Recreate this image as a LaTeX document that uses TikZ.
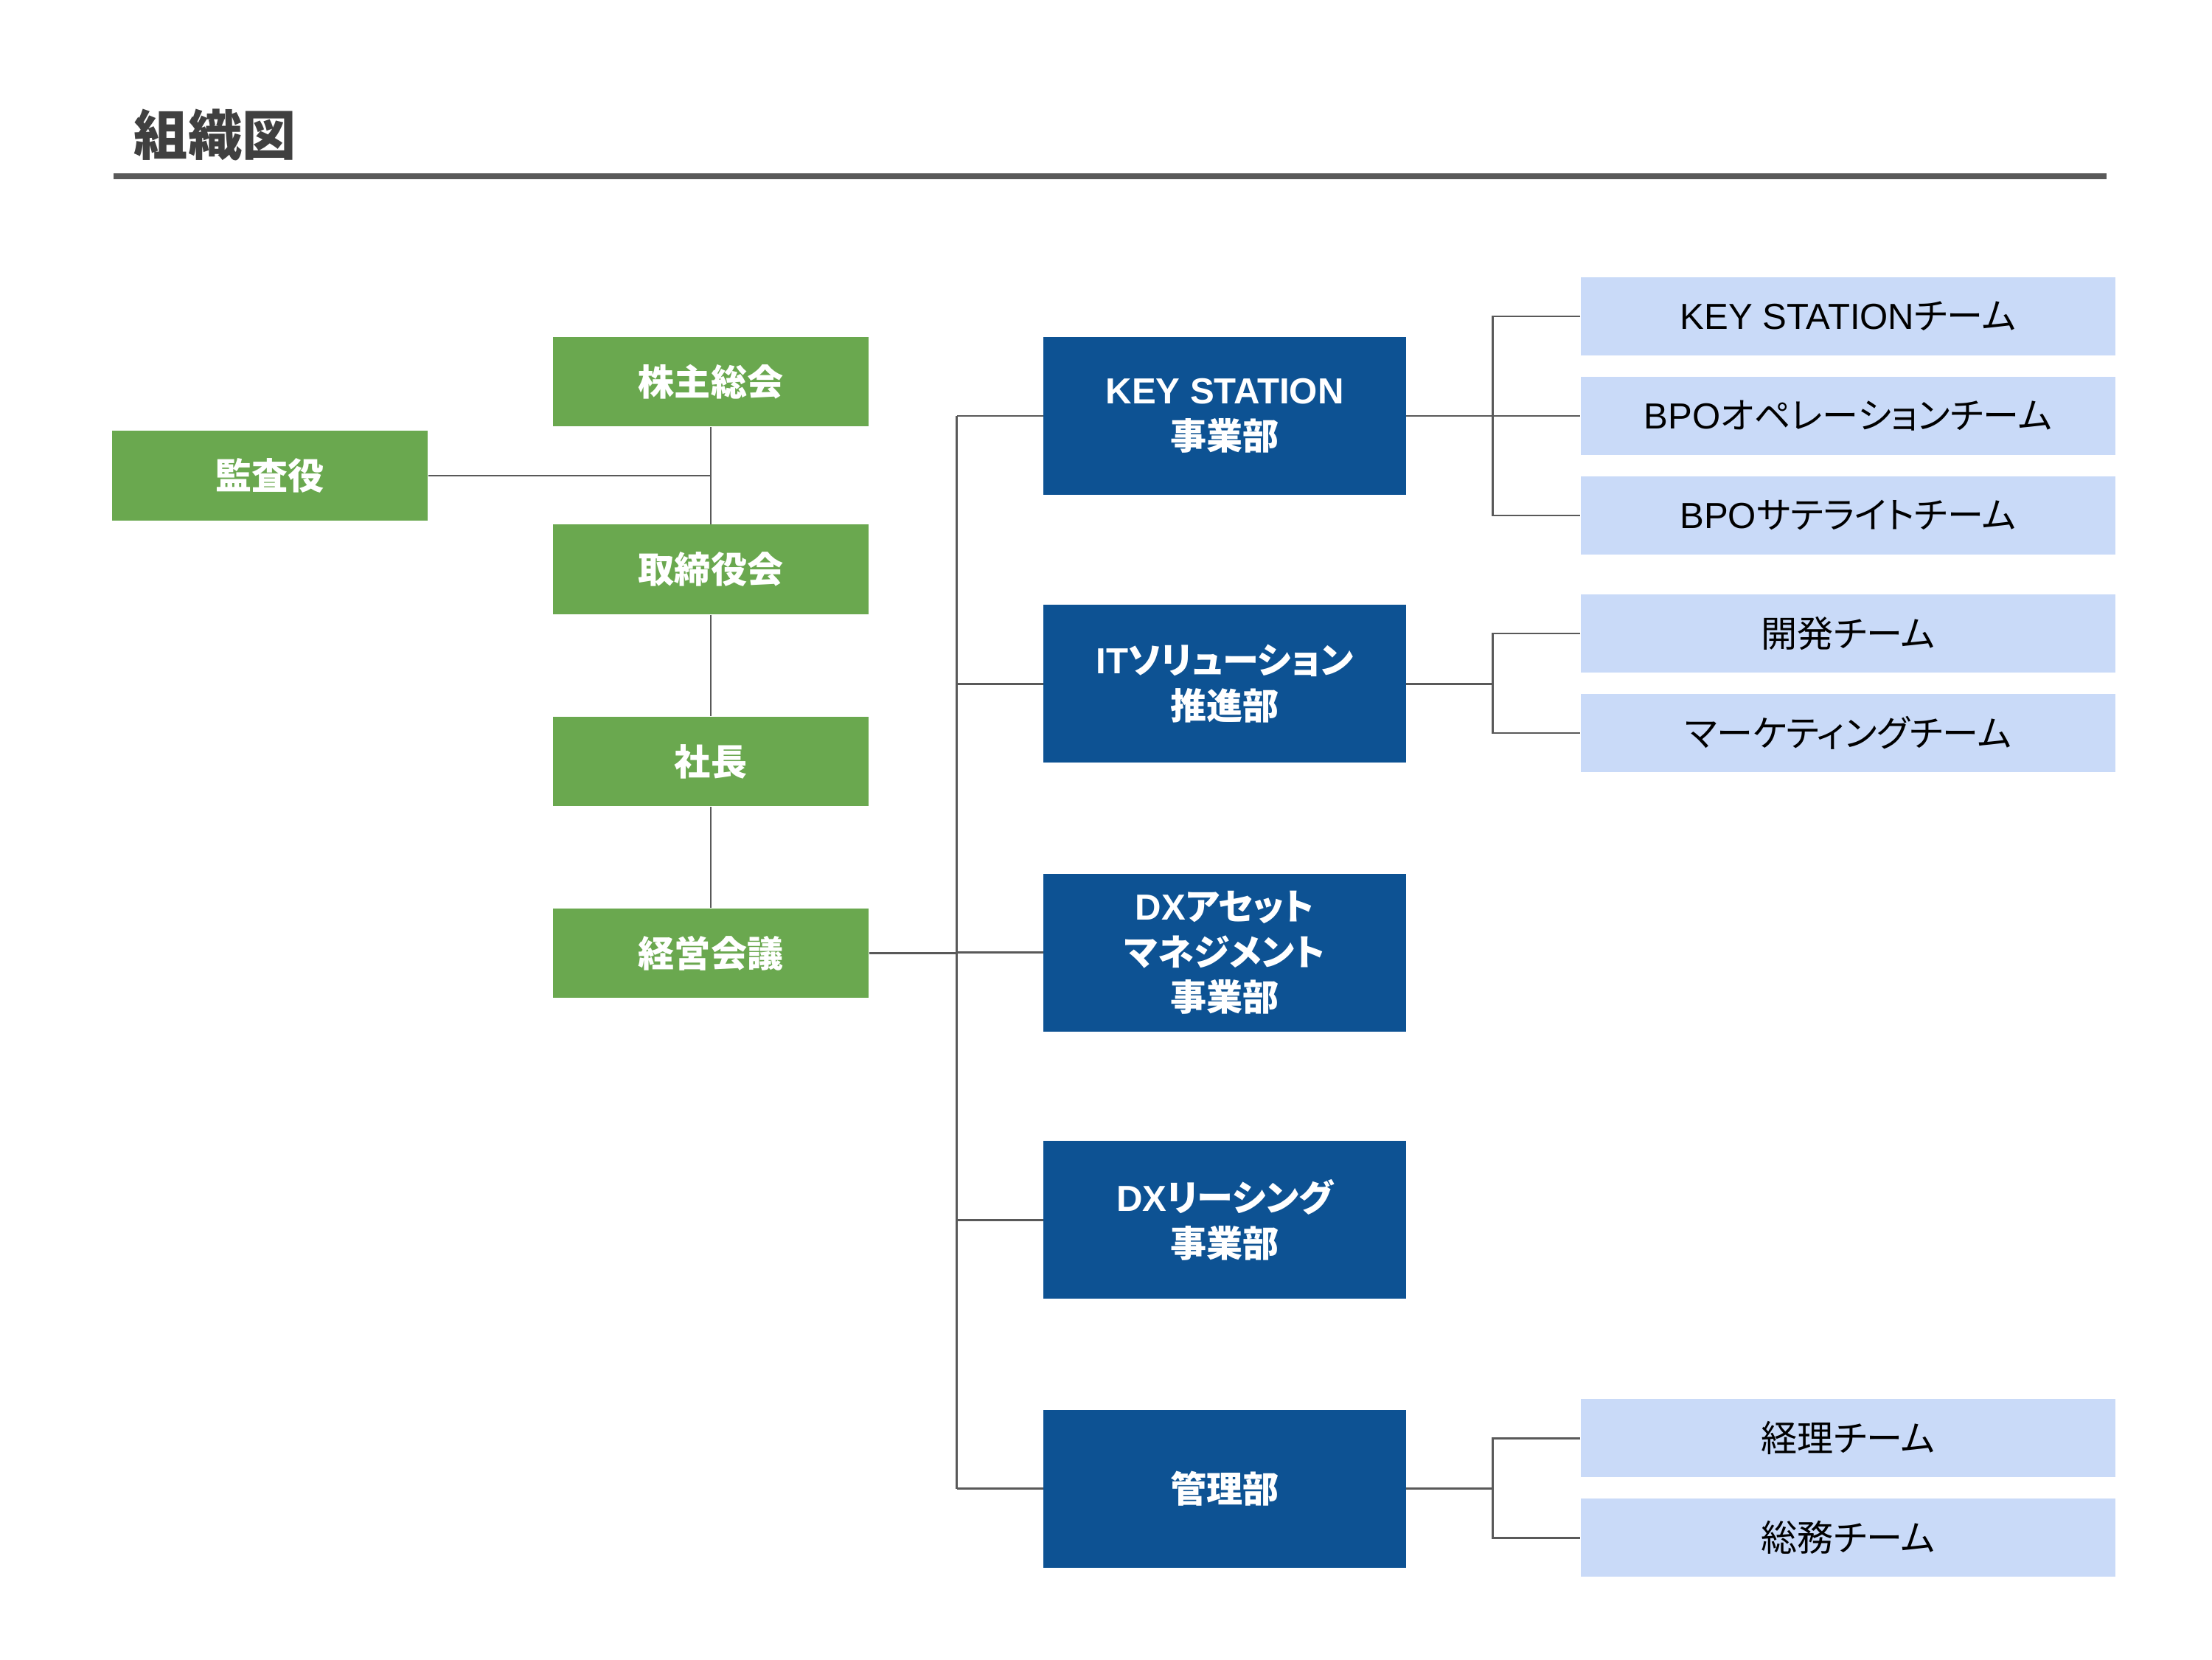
\documentclass[tikz,border=0pt]{standalone}
\usepackage{fontspec}
\newfontfamily\jp{Noto Sans CJK JP}[RawFeature=+palt]
\newfontfamily\jpt{Noto Sans CJK JP}
\newfontfamily\lat{Liberation Sans}
\definecolor{cgreen}{RGB}{106,168,79}
\definecolor{cblue}{RGB}{13,82,147}
\definecolor{clight}{RGB}{201,218,248}
\definecolor{cline}{RGB}{89,89,89}
\definecolor{ctitle}{RGB}{64,64,64}
\begin{document}
\begin{tikzpicture}[x=0.02cm,y=-0.02cm,
  gbox/.style={fill=cgreen,text=white,minimum width=4.44cm,minimum height=1.26cm,inner sep=0pt,align=center,font=\jpt\bfseries\fontsize{14.5}{18.2}\selectfont},
  bbox/.style={fill=cblue,text=white,minimum width=5.1cm,minimum height=2.22cm,inner sep=0pt,align=center,font=\jp\bfseries\fontsize{14.5}{18.2}\selectfont},
  lbox/.style={fill=clight,text=black,minimum width=7.52cm,minimum height=1.1cm,inner sep=0pt,align=center,font=\jp\fontsize{14.5}{18.2}\selectfont},
  conn/.style={draw=cline,line width=0.8pt}]
\useasboundingbox (0,0) rectangle (1556,1167);
% title
\node[anchor=west,text=ctitle,inner sep=0pt,font=\jpt\bfseries\fontsize{21.6}{26}\selectfont] (title) at (94,95) {組織図};
\coordinate (rl) at (80,124);
\coordinate (rr) at (1482,124);
\draw[draw=cline,line width=2.5pt] (rl) -- (rr);
% green column
\node[gbox] (kansa) at (190,334.5) {監査役};
\node[gbox] (kabu) at (500,268.5) {株主総会};
\node[gbox] (tori) at (500,400.5) {取締役会};
\node[gbox] (shacho) at (500,535.5) {社長};
\node[gbox] (keiei) at (500,670.5) {経営会議};
% blue column
\node[bbox] (ks) at (861.5,292.5) {{\lat KEY STATION}\\事業部};
\node[bbox] (it) at (861.5,481) {{\lat IT}ソリューション\\推進部};
\node[bbox] (dxa) at (861.5,670) {{\lat DX}アセット\\マネジメント\\事業部};
\node[bbox] (dxl) at (861.5,858) {{\lat DX}リーシング\\事業部};
\node[bbox] (kanri) at (861.5,1047) {管理部};
% teams
\node[lbox] (t1) at (1300,222.5) {{\lat KEY STATION}チーム};
\node[lbox] (t2) at (1300,292.5) {{\lat BPO}オペレーションチーム};
\node[lbox] (t3) at (1300,362.5) {{\lat BPO}サテライトチーム};
\node[lbox] (t4) at (1300,445.5) {開発チーム};
\node[lbox] (t5) at (1300,515.5) {マーケティングチーム};
\node[lbox] (t6) at (1300,1011.5) {経理チーム};
\node[lbox] (t7) at (1300,1081.5) {総務チーム};
% green connectors
\draw[conn] (kabu.south) -- (tori.north);
\draw[conn] (tori.south) -- (shacho.north);
\draw[conn] (shacho.south) -- (keiei.north);
\draw[conn] (kansa.east) -- (kansa.east -| kabu.south);
% trunk
\coordinate (tt) at (673,0);
\draw[conn] (tt |- ks.west) -- (tt |- kanri.west);
\draw[conn] (keiei.east) -- (keiei.east -| tt);
\foreach \b in {ks,it,dxa,dxl,kanri}{
  \draw[conn] (\b.west -| tt) -- (\b.west);
}
% team brackets
\coordinate (bt) at (1050,0);
\draw[conn] (ks.east) -- (t2.west);
\draw[conn] (t1.west) -- (t1.west -| bt) -- (t3.west -| bt) -- (t3.west);
\draw[conn] (it.east) -- (it.east -| bt);
\draw[conn] (t4.west) -- (t4.west -| bt) -- (t5.west -| bt) -- (t5.west);
\draw[conn] (kanri.east) -- (kanri.east -| bt);
\draw[conn] (t6.west) -- (t6.west -| bt) -- (t7.west -| bt) -- (t7.west);
\end{tikzpicture}
\end{document}
